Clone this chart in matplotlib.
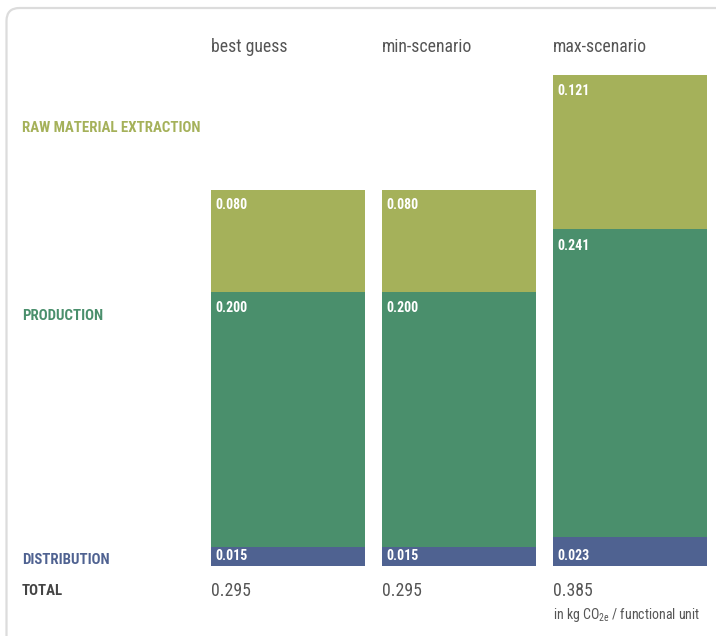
import matplotlib
matplotlib.use("Agg")
import matplotlib.pyplot as plt
from matplotlib import font_manager
from matplotlib.patches import FancyBboxPatch
import numpy as np

names = {f.name for f in font_manager.fontManager.ttflist}
font_choice = "Roboto"
for cand in ["Roboto Condensed", "Liberation Sans Narrow", "Arial Narrow", "Roboto"]:
    if cand in names:
        font_choice = cand
        break
plt.rcParams['font.family'] = [font_choice, 'DejaVu Sans']
plt.rcParams['mathtext.fontset'] = 'custom'
plt.rcParams['mathtext.rm'] = font_choice
plt.rcParams['mathtext.it'] = font_choice
plt.rcParams['mathtext.bf'] = font_choice + ":bold"

categories = ["best guess", "min-scenario", "max-scenario"]
stages = ["RAW MATERIAL EXTRACTION", "PRODUCTION", "DISTRIBUTION"]
distribution = [0.015, 0.015, 0.023]
production = [0.200, 0.200, 0.241]
raw_material = [0.080, 0.080, 0.121]
unit_note = r"in kg CO$_{\mathrm{2e}}$ / functional unit"

c_raw = "#A5B15A"
c_prod = "#4A8F6C"
c_dist = "#4F6291"
c_text = "#555555"

W, H = 716, 636
fig = plt.figure(figsize=(W / 100, H / 100), dpi=100)

frame = FancyBboxPatch((0.065, -0.3), 7.6, 6.58, boxstyle="round,pad=0,rounding_size=0.13",
                       transform=fig.dpi_scale_trans, fill=False, edgecolor="#dcdcdc",
                       linewidth=1.6, zorder=0)
fig.patches.append(frame)

bar_w = 154 / 171
ax = fig.add_axes([211 / W, (H - 566) / H, 496 / W, 491 / H])
ax.set_xlim(0, 2 + bar_w)
d = np.array(distribution)
p = np.array(production)
r = np.array(raw_material)
totals = d + p + r
ax.set_ylim(0, totals.max())
ax.axis("off")

x = np.arange(len(categories))
ax.bar(x, d, width=bar_w, align="edge", color=c_dist)
ax.bar(x, p, width=bar_w, bottom=d, align="edge", color=c_prod)
ax.bar(x, r, width=bar_w, bottom=d + p, align="edge", color=c_raw)

narrow = font_choice != "Roboto"
lab_kw = dict(color="white", fontsize=10 if narrow else 9, fontweight="bold", ha="left",
              va="center", textcoords="offset points")
title_fs = 12.8 if narrow else 11.5
for i in range(len(categories)):
    ax.annotate(f"{d[i]:.3f}", (x[i], 0), xytext=(3.3, 7.2), **lab_kw)
    ax.annotate(f"{p[i]:.3f}", (x[i], d[i] + p[i]), xytext=(3.3, -12), **lab_kw)
    ax.annotate(f"{r[i]:.3f}", (x[i], totals[i]), xytext=(3.3, -11.2), **lab_kw)
    fig.text((211 + 171 * i) / W, 1 - 47 / H, categories[i], fontsize=title_fs,
             color=c_text, ha="left", va="center")
    fig.text((211 + 171 * i) / W, 1 - 591 / H, f"{totals[i]:.3f}", fontsize=title_fs,
             color=c_text, ha="left", va="center")

fig.text(553 / W, 1 - 615 / H, unit_note, fontsize=10.0 if narrow else 8.5, color=c_text,
         ha="left", va="center")

left_kw = dict(fontsize=10.7 if narrow else 9, fontweight="bold", ha="left", va="center")
fig.text(22 / W, 1 - 128 / H, stages[0], color=c_raw, **left_kw)
fig.text(22 / W, 1 - 316 / H, stages[1], color=c_prod, **left_kw)
fig.text(22 / W, 1 - 560 / H, stages[2], color=c_dist, **left_kw)
fig.text(22 / W, 1 - 591 / H, "TOTAL", color="#444444", **left_kw)

fig.savefig("out.png", dpi=100)
